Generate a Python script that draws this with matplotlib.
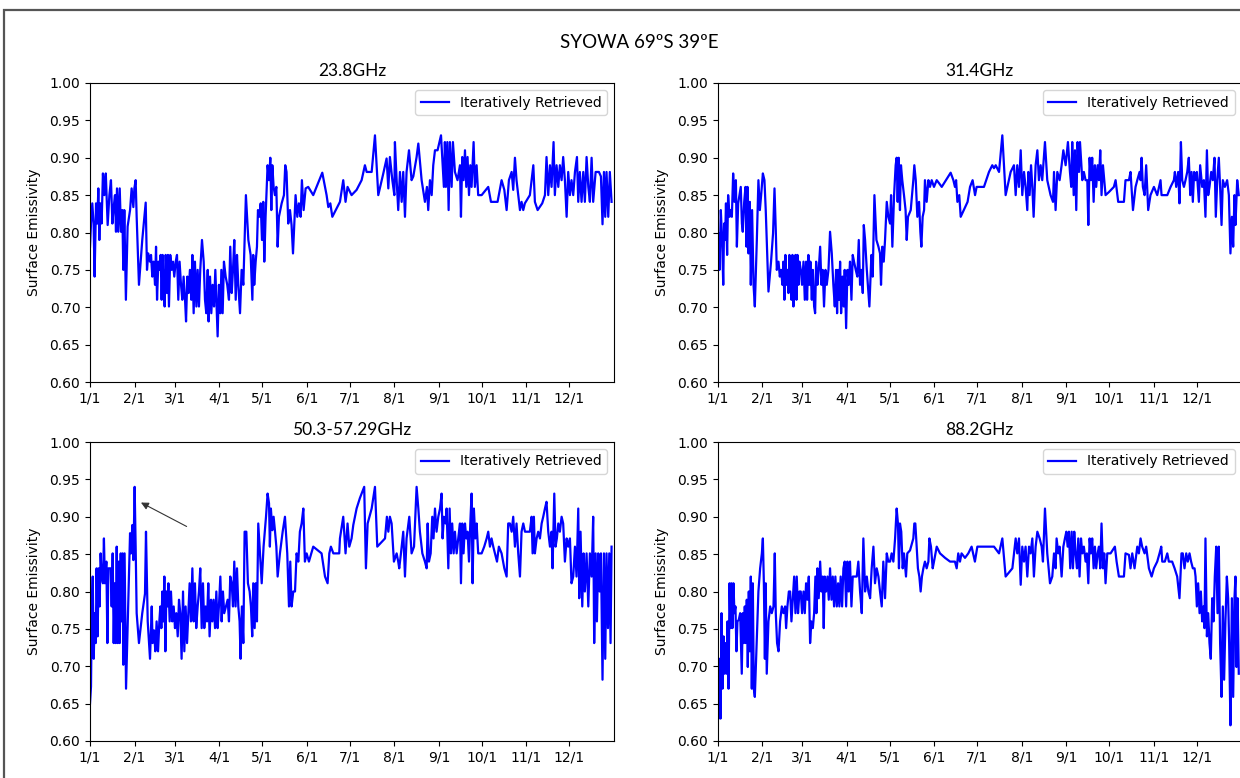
import matplotlib
matplotlib.use("Agg")
import matplotlib.pyplot as plt
from matplotlib.patches import Rectangle

# ---------------- data (day of year, surface emissivity) ----------------
month_ticks = [1, 32, 60, 91, 121, 152, 182, 213, 244, 274, 305, 335]
month_labels = ["1/1", "2/1", "3/1", "4/1", "5/1", "6/1", "7/1", "8/1",
                "9/1", "10/1", "11/1", "12/1"]
y_ticks = [0.60, 0.65, 0.70, 0.75, 0.80, 0.85, 0.90, 0.95, 1.00]

titles = ["23.8GHz", "31.4GHz", "50.3-57.29GHz", "88.2GHz"]
suptitle = "SYOWA 69ºS 39ºE"
legend_label = "Iteratively Retrieved"

e238 = [(1,0.781),(1.7,0.812),(2.6,0.839),(3.5,0.812),(4.2,0.741),(5.2,0.839),(6.1,0.812),(6.8,0.859),(7.5,0.790),(8.2,0.839),
(9.1,0.812),(10,0.879),(11,0.850),(12,0.879),(13.3,0.810),(14.5,0.850),(15.6,0.870),(16.6,0.812),(17.5,0.834),(18.4,0.850),
(19.1,0.801),(19.8,0.859),(20.7,0.801),(21.7,0.859),(22.6,0.801),(23.5,0.830),(24.2,0.750),(24.9,0.830),(26,0.710),(27.2,0.808),
(28.9,0.830),(30,0.859),(31.2,0.834),(31.9,0.859),(32.8,0.870),(33.5,0.821),(35.1,0.730),(37.4,0.790),(39.8,0.840),(40.7,0.750),
(41.6,0.772),(42.8,0.761),(43.5,0.770),(44.4,0.741),(45.3,0.761),(46.3,0.730),(47,0.781),(47.7,0.710),(48.6,0.761),(49.5,0.750),
(50.2,0.770),(50.9,0.710),(51.6,0.770),(52.3,0.730),(53,0.701),(53.7,0.770),(54.6,0.719),(55.3,0.770),(56,0.701),(56.9,0.770),
(57.9,0.750),(58.8,0.761),(59.7,0.741),(60.7,0.761),(61.6,0.770),(62.5,0.710),(63.4,0.761),(64.4,0.730),(65.3,0.710),(66.2,0.741),
(67.2,0.710),(67.9,0.681),(68.8,0.741),(69.7,0.719),(70.6,0.750),(71.6,0.710),(72.3,0.770),(73.2,0.692),(74.1,0.761),(75.1,0.701),
(76,0.750),(76.9,0.701),(77.8,0.750),(79,0.790),(80.2,0.761),(81.1,0.710),(82,0.692),(83,0.750),(83.6,0.681),(84.6,0.741),
(85.5,0.692),(86.4,0.730),(87.4,0.701),(88.3,0.750),(89.2,0.701),(89.9,0.661),(90.8,0.730),(91.8,0.692),(92.5,0.750),(93.4,0.692),
(94.3,0.761),(95.5,0.741),(96.6,0.730),(97.8,0.710),(98.7,0.781),(99.7,0.719),(100.6,0.750),(101.5,0.790),(102.5,0.710),(103.4,0.770),
(104.3,0.730),(105.5,0.692),(106.6,0.750),(107.8,0.730),(108.7,0.790),(109.6,0.850),(111.3,0.790),(112.9,0.770),(114.1,0.710),(114.7,0.770),
(115.4,0.730),(116.4,0.761),(117.3,0.781),(118,0.830),(118.9,0.821),(119.9,0.839),(120.8,0.790),(121.7,0.841),(122.4,0.761),(123.3,0.821),
(124.7,0.890),(125.7,0.870),(126.6,0.900),(127.3,0.830),(128,0.890),(128.9,0.861),(129.8,0.850),(130.8,0.861),(131.7,0.781),(132.6,0.821),
(134.5,0.839),(136.1,0.850),(137,0.890),(137.9,0.881),(139.1,0.812),(140.3,0.830),(141.4,0.810),(142.4,0.772),(143.3,0.812),(144.2,0.850),
(145.4,0.821),(146.5,0.839),(147.7,0.821),(148.6,0.870),(149.8,0.830),(151.2,0.859),(153,0.861),(156.5,0.850),(162.8,0.880),(165.8,0.850),
(167,0.834),(168.4,0.839),(169.8,0.821),(175.1,0.841),(177.4,0.870),(179,0.841),(180.4,0.861),
(183.2,0.850),(186.7,0.857),(190.2,0.870),(192.5,0.890),(193.7,0.881),(197.2,0.881),(199.5,0.930),(201.8,0.850),(205.3,0.879),(207.6,0.899),
(208.8,0.859),(209.9,0.901),(211.6,0.870),(213,0.850),(213.4,0.921),(214.6,0.870),(215.7,0.830),(216.9,0.881),(218.1,0.841),(219.2,0.881),
(220.4,0.821),(221.5,0.881),(223.2,0.910),(225,0.870),(226.2,0.875),(228.5,0.901),(229.7,0.919),(232,0.870),(234.3,0.841),(235.7,0.861),
(236.6,0.830),(237.8,0.870),(239,0.850),(240.1,0.890),(241.3,0.910),(243.1,0.910),(245.5,0.930),(246.4,0.899),(247.5,0.861),(248.2,0.921),
(248.9,0.861),(249.9,0.921),(250.8,0.830),(251.7,0.921),(252.9,0.861),(253.8,0.921),(255.2,0.881),(257,0.870),(258.7,0.890),(259.4,0.821),
(260.3,0.901),(261.2,0.870),(262.2,0.910),(263.1,0.861),(264,0.901),(265,0.850),(265.9,0.890),(266.8,0.861),(268.2,0.921),(269.1,0.861),
(270.3,0.890),(271.4,0.850),(273.8,0.850),(278.4,0.861),(280.3,0.841),(284.9,0.841),(287.7,0.870),(289.6,0.857),(291.2,0.830),(292.8,0.870),
(294.7,0.881),(295.8,0.857),(297,0.900),(298.1,0.870),(299.3,0.850),(300.5,0.830),(301.6,0.841),(302.8,0.830),(303.9,0.839),(307.4,0.850),
(308.6,0.870),(309.8,0.890),(310.9,0.841),(312.8,0.830),(316,0.839),(317.9,0.850),(319,0.901),(320.2,0.850),(321.4,0.890),(322.5,0.861),
(323.9,0.921),(324.8,0.850),(326,0.890),(327.2,0.861),(328.3,0.890),(329.5,0.870),(330.6,0.901),(331.8,0.870),(333,0.821),(334.1,0.881),
(335.3,0.850),(336.4,0.870),(337.6,0.850),(338.8,0.881),(340.2,0.901),(341.1,0.841),(342.2,0.881),(343.4,0.841),(344.6,0.881),(345.7,0.841),
(346.9,0.901),(348.1,0.861),(349.2,0.841),(350.4,0.900),(351.5,0.841),(353.2,0.881),(355.5,0.881),(356.9,0.875),(358,0.811),(359,0.881),
(359.9,0.821),(360.8,0.881),(362,0.821),(363.1,0.881),(364.3,0.841)]

e314 = [(1,0.781),(1.7,0.799),(2.4,0.750),(3.3,0.830),(4.2,0.790),(5,0.730),(5.6,0.812),(6.3,0.790),(6.9,0.839),(7.7,0.770),
(8.4,0.850),(9.4,0.821),(10.3,0.830),(11,0.821),(11.9,0.879),(12.8,0.841),(13.8,0.870),(14.5,0.781),(15.4,0.839),(16.3,0.850),
(17.2,0.861),(18,0.812),(18.6,0.801),(19.6,0.841),(20.5,0.861),(21.2,0.781),(21.9,0.861),(22.6,0.772),(23.5,0.841),(24.2,0.730),
(25.1,0.830),(26.1,0.730),(27,0.701),(28.4,0.790),(29.5,0.870),(30.5,0.830),(31.4,0.850),(32.6,0.879),(33.7,0.870),(34.6,0.830),
(35.3,0.790),(36.5,0.721),(38.3,0.761),(39.7,0.799),(40.7,0.859),(41.6,0.803),(42.3,0.750),(43.5,0.761),(44.4,0.741),(45.3,0.750),
(46.2,0.730),(46.9,0.761),(47.6,0.710),(48.3,0.770),(49,0.730),(49.7,0.750),(50.4,0.719),(51.1,0.770),(51.8,0.730),(52.5,0.710),
(53.2,0.770),(53.9,0.701),(54.6,0.761),(55.3,0.770),(56,0.710),(56.7,0.770),(57.4,0.730),(58.1,0.761),(59,0.750),(59.9,0.730),
(60.9,0.761),(61.8,0.710),(62.7,0.761),(63.4,0.710),(64.3,0.770),(65,0.730),(65.7,0.761),(66.7,0.710),(67.4,0.750),(68.3,0.701),
(69,0.692),(69.7,0.761),(70.6,0.730),(71.5,0.750),(72.5,0.781),(73.4,0.730),(74.3,0.750),(75.2,0.701),(76.2,0.750),(77.1,0.730),
(78.3,0.750),(79.4,0.801),(80.6,0.772),(81.7,0.730),(82.7,0.701),(83.6,0.750),(84.3,0.692),(85,0.750),(85.7,0.710),(86.4,0.761),
(87.1,0.692),(88,0.741),(89,0.701),(89.6,0.750),(90.6,0.672),(91.5,0.750),(92.4,0.730),(93.3,0.761),(94.3,0.710),(95.2,0.770),
(96.1,0.761),(97.3,0.750),(98.4,0.741),(99.4,0.790),(100.3,0.730),(101.2,0.750),(102.2,0.719),(102.9,0.810),(103.8,0.790),(105,0.750),
(106.8,0.701),(108.2,0.770),(109.1,0.741),(110.3,0.850),(111.7,0.790),(113.1,0.781),(114.2,0.772),(114.9,0.730),(115.8,0.781),(116.8,0.761),
(117.7,0.790),(118.9,0.841),(120,0.821),(121.2,0.812),(121.9,0.850),(122.8,0.781),(124,0.850),(125.1,0.890),(125.8,0.900),(126.5,0.841),
(127.2,0.900),(128.1,0.830),(128.8,0.890),(129.7,0.870),(130.9,0.850),(132,0.830),(132.8,0.790),(133.7,0.821),(135.6,0.830),(137.4,0.870),
(138.1,0.890),(139.1,0.870),(140.2,0.821),(141.4,0.841),(142.3,0.801),(143,0.781),(143.9,0.821),(144.9,0.830),(145.5,0.870),(146.7,0.841),
(147.9,0.870),(149,0.861),(150.2,0.870),(151.8,0.861),(153.7,0.870),(155.3,0.866),(157.2,0.861),(163.4,0.880),(165.3,0.870),(166.4,0.861),
(167.2,0.870),(168.1,0.841),(169.4,0.850),(170.4,0.821),(175.2,0.841),(176.9,0.861),(178.7,0.870),(180.4,0.850),(181.5,0.861),
(186.6,0.861),(190.1,0.881),(192.4,0.890),(193.6,0.886),(194.8,0.890),(197.1,0.881),(199.4,0.930),(201.7,0.850),(205.2,0.881),(207.5,0.890),
(208.7,0.850),(209.8,0.890),(211,0.861),(212.2,0.910),(213.3,0.850),(214.5,0.881),(215.6,0.861),(216.8,0.830),(217.5,0.881),(218.4,0.850),
(219.4,0.890),(220.3,0.861),(221.2,0.821),(222.6,0.890),(223.8,0.910),(224.9,0.870),(226.1,0.890),(227.2,0.870),(229.1,0.921),(230.7,0.870),
(233,0.850),(234.7,0.841),(235.4,0.881),(236.5,0.830),(237.7,0.881),(239.3,0.870),(240.7,0.890),(241.9,0.910),(243.5,0.890),(245.1,0.921),
(246.5,0.881),(247.4,0.861),(248.1,0.921),(249.1,0.850),(250,0.910),(250.9,0.830),(251.8,0.921),(252.8,0.881),(253.5,0.921),(255.1,0.870),
(256.2,0.881),(257.4,0.870),(258.6,0.870),(259.3,0.810),(260.2,0.900),(261.1,0.870),(262,0.900),(263,0.841),(263.9,0.890),(264.8,0.861),
(265.8,0.890),(266.7,0.870),(267.6,0.910),(268.5,0.850),(269.5,0.890),(270.4,0.870),(271.3,0.850),(273.6,0.854),(277.1,0.861),(278.3,0.870),
(280.1,0.841),(284.1,0.841),(285.2,0.870),(287.6,0.870),(288.7,0.881),(290.4,0.830),(292.2,0.861),(293.4,0.870),(295,0.881),(295.7,0.870),
(296.4,0.900),(297.3,0.861),(298.5,0.850),(299.6,0.890),(301,0.830),(302.6,0.850),(305,0.861),(307.3,0.850),(309.6,0.870),(310.3,0.850),
(314.3,0.850),(316.6,0.861),(318.9,0.870),(319.6,0.881),(320.5,0.861),(321.9,0.881),(322.8,0.839),(323.8,0.921),(324.7,0.870),(325.9,0.861),
(327,0.870),(328.2,0.881),(329.3,0.900),(330.3,0.850),(331.2,0.881),(332.1,0.841),(333,0.881),(334,0.870),(334.9,0.881),(336.3,0.841),
(337.2,0.890),(338.6,0.861),(339.8,0.870),(340.9,0.821),(341.9,0.910),(342.8,0.850),(343.7,0.861),(344.9,0.881),(346,0.870),(347.2,0.900),
(348.1,0.821),(349.1,0.870),(350.2,0.900),(351.1,0.861),(352.1,0.810),(353,0.870),(354.4,0.861),(356,0.870),(357.2,0.850),(358.3,0.772),
(359.3,0.821),(360.2,0.781),(361.1,0.850),(361.8,0.810),(363,0.870),(364.1,0.850)]

e503 = [(1,0.650),(1.7,0.673),(2.2,0.771),(2.9,0.820),(3.6,0.710),(4.3,0.771),(5,0.731),(5.6,0.831),(6.3,0.740),(7,0.831),
(7.7,0.780),(8.4,0.851),(9.1,0.820),(10,0.811),(10.7,0.871),(11.4,0.811),(12.4,0.840),(13.1,0.731),(13.8,0.831),(14.7,0.831),
(15.4,0.831),(16.1,0.780),(16.8,0.851),(17.5,0.731),(18.2,0.811),(18.9,0.731),(19.6,0.860),(20.3,0.731),(21,0.840),(21.7,0.731),
(22.4,0.851),(23.1,0.760),(23.7,0.851),(24.2,0.702),(25.1,0.851),(26.1,0.670),(27.7,0.789),(28.9,0.878),(29.6,0.851),(30.5,0.889),
(31.2,0.842),(32.1,0.940),(32.8,0.860),(33.5,0.771),(35.1,0.731),(37.4,0.771),(39.3,0.797),(40,0.880),(41.2,0.760),(42.8,0.710),
(44,0.780),(44.6,0.731),(45.6,0.748),(46.5,0.720),(47.4,0.760),(48.4,0.720),(49.3,0.760),(50,0.780),(50.7,0.751),(51.4,0.800),
(52.1,0.760),(52.8,0.820),(53.5,0.720),(54.2,0.800),(54.9,0.780),(55.6,0.811),(56.5,0.760),(57.4,0.800),(58.3,0.760),(59.3,0.780),
(60.2,0.751),(61.1,0.771),(62.1,0.740),(63,0.789),(63.9,0.771),(64.8,0.710),(65.8,0.800),(66.7,0.720),(67.6,0.780),(68.6,0.731),
(69.5,0.771),(70.4,0.811),(71.3,0.760),(72.3,0.831),(73.2,0.760),(74.1,0.811),(75,0.751),(76,0.780),(76.9,0.800),(77.8,0.831),
(78.8,0.751),(79.7,0.811),(80.6,0.751),(81.5,0.780),(82.5,0.760),(83.4,0.811),(84.3,0.740),(85.3,0.789),(86.2,0.760),(87.1,0.789),
(88.1,0.751),(89,0.800),(89.9,0.751),(90.8,0.780),(91.8,0.820),(92.7,0.760),(93.6,0.800),(94.5,0.771),(95.7,0.780),(96.9,0.789),
(97.8,0.760),(98.7,0.820),(99.7,0.811),(100.6,0.780),(101.5,0.840),(102.4,0.780),(103.4,0.831),(104.3,0.780),(105.2,0.760),(105.9,0.710),
(106.8,0.780),(107.8,0.731),(108.7,0.880),(109.9,0.880),(111,0.811),(112.2,0.800),(113.1,0.780),(114,0.740),(114.7,0.811),(115.7,0.751),
(116.4,0.811),(117.3,0.760),(118.2,0.891),(119.4,0.851),(120.6,0.811),(121.9,0.860),(123.6,0.900),(124.7,0.931),(125.7,0.918),(126.3,0.860),
(127,0.911),(128,0.882),(128.9,0.900),(129.8,0.882),(130.8,0.860),(131.7,0.820),(133.3,0.851),(135.2,0.880),(136.8,0.900),(138.4,0.851),
(139.6,0.780),(140.5,0.840),(141.4,0.780),(142.6,0.800),(143.8,0.800),(144.9,0.851),(146.1,0.840),(147.2,0.880),(148.4,0.891),(149.6,0.911),
(150.7,0.840),(151.9,0.851),(153.5,0.840),(156.5,0.860),(162.3,0.851),(164.7,0.820),(166.5,0.811),(167.7,0.851),(168.8,0.860),(170.5,0.851),
(174.6,0.851),(175.1,0.871),(177.4,0.900),(179,0.851),(180.4,0.891),(181.6,0.860),
(183.2,0.871),(184.4,0.889),(186.7,0.911),(189,0.925),(192,0.940),(193.2,0.831),(194.4,0.891),(197.2,0.911),(199.5,0.940),(201.1,0.860),
(206.5,0.871),(207.8,0.900),(208.8,0.880),(209.9,0.900),(211.1,0.891),(212.7,0.840),(214.6,0.851),(215.7,0.840),(216.4,0.831),(217.6,0.851),
(219.2,0.880),(220.4,0.820),(221.5,0.871),(223.4,0.900),(225,0.851),(226.7,0.860),(228.5,0.940),(229.7,0.911),(230.8,0.880),(232.5,0.851),
(234.3,0.840),(235.5,0.831),(236.2,0.891),(237.1,0.840),(238.3,0.851),(239.4,0.900),(240.3,0.871),(241.3,0.911),(242.4,0.880),(243.6,0.900),
(244.8,0.911),(245.9,0.931),(246.6,0.871),(247.5,0.900),(248.7,0.891),(249.4,0.911),(250.6,0.831),(251.5,0.911),(252.4,0.851),(253.3,0.891),
(254.3,0.851),(255.2,0.880),(256.4,0.851),(257.5,0.871),(258.7,0.891),(259.4,0.811),(260.3,0.891),(261.2,0.851),(262.2,0.891),(263.1,0.871),
(264,0.880),(265,0.840),(265.9,0.891),(266.8,0.931),(267.5,0.811),(268.4,0.911),(269.4,0.871),(270.3,0.891),(271.4,0.851),(273.8,0.851),
(275.6,0.860),(277.3,0.871),(278.4,0.880),(279.6,0.860),(280.7,0.871),(281.9,0.860),(283.1,0.851),(284.5,0.840),(285.8,0.860),(287.7,0.851),
(289.6,0.831),(291.2,0.820),(292.3,0.891),(293.5,0.891),(294.7,0.880),(295.8,0.900),(297,0.860),(298.1,0.891),(299.3,0.851),(300.5,0.820),
(301.6,0.880),(302.8,0.891),(304,0.880),(307.4,0.880),(308.6,0.900),(309.3,0.851),(310.2,0.900),(310.9,0.851),(312.1,0.871),(313.2,0.880),
(314.4,0.871),(315.6,0.891),(316.7,0.900),(317.9,0.911),(319,0.920),(320.2,0.880),(321.4,0.860),(322.5,0.880),(323.2,0.831),(324.4,0.931),
(325.3,0.860),(326.2,0.871),(327.2,0.891),(328.3,0.880),(329.5,0.900),(330.6,0.891),(331.8,0.840),(333,0.871),(334.1,0.860),(335.3,0.871),
(336.4,0.811),(337.6,0.820),(338.8,0.860),(339.9,0.820),(341.1,0.911),(341.8,0.791),(342.7,0.880),(343.9,0.780),(344.8,0.851),(345.7,0.800),
(346.9,0.851),(348.1,0.780),(349.2,0.851),(350.4,0.820),(351.5,0.900),(352.2,0.731),(353.2,0.851),(354.1,0.760),(355,0.851),(356,0.800),
(356.9,0.851),(358,0.682),(359,0.851),(359.9,0.710),(360.8,0.851),(361.8,0.751),(362.7,0.851),(363.6,0.731),(364.3,0.860)]

e882 = [(1,0.699),(1.7,0.630),(2.4,0.710),(3.1,0.630),(3.8,0.771),(4.5,0.670),(5.2,0.740),(5.9,0.690),(6.6,0.731),(7.3,0.690),
(8,0.760),(8.7,0.670),(9.4,0.811),(10,0.751),(10.7,0.811),(11.4,0.751),(12.1,0.811),(12.8,0.771),(13.5,0.780),(14.2,0.720),
(14.9,0.760),(15.8,0.762),(16.8,0.771),(17.9,0.690),(18.6,0.771),(19.3,0.731),(20,0.780),(20.7,0.731),(21.4,0.789),(22.1,0.699),
(22.8,0.800),(23.5,0.720),(24.2,0.820),(24.9,0.670),(25.6,0.811),(26.3,0.670),(27,0.659),(29.5,0.800),(30.7,0.831),(31.9,0.851),
(32.6,0.871),(33.3,0.811),(34,0.710),(34.6,0.811),(35.3,0.690),(36.5,0.760),(37.7,0.780),(38.8,0.771),(40,0.780),(40.9,0.851),
(41.6,0.771),(42.5,0.731),(43.5,0.720),(44.6,0.760),(45.8,0.780),(46.9,0.771),(48.1,0.780),(48.8,0.751),(49.7,0.780),(50.7,0.800),
(51.6,0.800),(52.5,0.760),(53.4,0.789),(54.4,0.820),(55.3,0.771),(56.2,0.820),(57.1,0.771),(58.1,0.800),(59,0.800),(59.9,0.771),
(60.9,0.800),(61.8,0.771),(62.7,0.811),(63.6,0.789),(64.6,0.820),(65.5,0.731),(66.4,0.760),(67.4,0.751),(68.3,0.771),(69.2,0.820),
(69.9,0.771),(70.6,0.831),(71.5,0.791),(72.5,0.840),(73.4,0.800),(74.3,0.820),(75,0.751),(75.7,0.820),(76.6,0.800),(77.6,0.820),
(78.5,0.789),(79.4,0.831),(80.4,0.789),(81.3,0.820),(82.2,0.780),(83.1,0.820),(84.1,0.780),(85,0.811),(85.9,0.780),(86.8,0.820),
(87.8,0.780),(88.7,0.831),(89.6,0.840),(90.6,0.780),(91.5,0.840),(92.4,0.800),(93.3,0.840),(94.3,0.780),(95.2,0.820),(96.8,0.820),
(98,0.820),(99.1,0.840),(100.3,0.800),(101.5,0.771),(102.6,0.871),(103.8,0.800),(105,0.820),(106.1,0.800),(107.3,0.791),(108.4,0.831),
(109.6,0.860),(110.7,0.811),(111.9,0.831),(113.1,0.820),(114.2,0.800),(115.4,0.780),(116.5,0.840),(117.7,0.791),(118.9,0.851),(120,0.840),
(121.2,0.840),(122.3,0.851),(123.5,0.840),(124.7,0.871),(125.8,0.911),(126.7,0.891),(127.4,0.831),(128.1,0.891),(129,0.880),(130,0.831),
(130.9,0.851),(132.3,0.820),(133.2,0.851),(135.1,0.855),(137.4,0.871),(138.1,0.891),(138.8,0.891),(139.7,0.860),(140.6,0.831),(141.6,0.820),
(142.5,0.800),(143.4,0.820),(144.4,0.831),(145.5,0.840),(146.7,0.831),(147.9,0.840),(148.6,0.871),(149.7,0.860),(150.9,0.831),(151.8,0.840),
(153.7,0.860),(156,0.851),(159.5,0.845),(163,0.840),(166.4,0.840),(167.6,0.831),(168.7,0.851),(169.9,0.840),(171,0.851),(173.4,0.845),
(175.7,0.851),(178,0.860),(180.3,0.840),(182,0.860),
(184.3,0.860),(193.6,0.860),(197.1,0.851),(199.4,0.871),(201.7,0.820),(206.4,0.831),(208.7,0.871),(209.8,0.851),(211,0.871),(212.2,0.809),
(213.3,0.860),(214.5,0.840),(215.6,0.860),(216.8,0.820),(218,0.860),(219.1,0.851),(220.3,0.871),(221.4,0.820),(222.6,0.860),(223.8,0.880),
(225.4,0.871),(226.8,0.860),(227.7,0.840),(229.1,0.911),(230.7,0.851),(232.6,0.811),(234.2,0.820),(235.4,0.851),(236.5,0.831),(237.2,0.871),
(238.4,0.851),(239.3,0.860),(240.7,0.820),(241.9,0.860),(243,0.871),(244,0.880),(244.9,0.860),(245.8,0.880),(246.7,0.831),(247.7,0.880),
(248.6,0.831),(249.5,0.880),(250.4,0.851),(251.4,0.831),(252.3,0.871),(253.2,0.820),(254.2,0.871),(255.1,0.851),(256.2,0.860),(257.4,0.840),
(258.3,0.851),(259.3,0.811),(260.2,0.871),(261.1,0.851),(262,0.871),(263,0.831),(263.9,0.860),(264.8,0.831),(265.8,0.851),(266.7,0.860),
(267.6,0.831),(268.5,0.891),(269.5,0.831),(270.4,0.851),(271.3,0.811),(272.5,0.851),(274.8,0.851),(277.8,0.860),(279,0.840),(280.6,0.820),
(284.1,0.820),(285.2,0.851),(287.6,0.849),(288.7,0.831),(289.9,0.851),(291.5,0.831),(293.4,0.860),(294.5,0.851),(295.7,0.871),(296.8,0.860),
(298.5,0.851),(299.6,0.860),(301.5,0.831),(303.4,0.820),(305,0.831),(307.3,0.840),(308.9,0.851),(310.1,0.860),(310.8,0.840),(312.6,0.840),
(314.3,0.851),(315.4,0.840),(317.7,0.840),(319.4,0.831),(321.2,0.820),(322.8,0.791),(324.2,0.851),(325.1,0.851),(326.3,0.831),(327.5,0.851),
(328.6,0.840),(329.8,0.851),(330.9,0.840),(332.1,0.831),(333.3,0.831),(334,0.820),(334.9,0.780),(335.8,0.811),(336.8,0.771),(337.7,0.800),
(338.6,0.760),(339.5,0.780),(340.2,0.751),(340.9,0.871),(341.9,0.740),(342.8,0.771),(343.7,0.731),(344.6,0.710),(345.6,0.791),(346.5,0.760),
(347.4,0.820),(348.4,0.860),(349.3,0.771),(350.2,0.860),(351.1,0.731),(352.1,0.659),(353,0.780),(353.9,0.682),(354.8,0.760),(355.8,0.820),
(356.7,0.791),(357.4,0.731),(358.3,0.621),(359.3,0.791),(360.2,0.659),(361.1,0.791),(361.8,0.820),(362.5,0.699),(363.3,0.791),(364.1,0.690)]

series = [e238, e314, e503, e882]

# arrow annotation on the 50.3-57.29GHz panel (day, value)
arrow_tip = (36.5, 0.919)
arrow_tail = (68.3, 0.887)

# ---------------- figure ----------------
W, H = 1240, 778
fig = plt.figure(figsize=(W / 100, H / 100), dpi=100)

def px_axes(left, top, right, bottom):
    return [left / W, 1 - bottom / H, (right - left) / W, (bottom - top) / H]

boxes = [px_axes(90, 83, 614, 382), px_axes(717.5, 83, 1241.5, 382),
         px_axes(90, 442, 614, 741), px_axes(717.5, 442, 1241.5, 741)]

for i, (box, data, title) in enumerate(zip(boxes, series, titles)):
    ax = fig.add_axes(box)
    xs = [p[0] for p in data]
    ys = [p[1] for p in data]
    ax.plot(xs, ys, color="#0000ff", lw=1.6, label=legend_label)
    ax.set_xlim(1, 366)
    ax.set_ylim(0.60, 1.00)
    ax.set_xticks(month_ticks)
    ax.set_xticklabels(month_labels)
    ax.set_yticks(y_ticks)
    ax.set_yticklabels([f"{v:.2f}" for v in y_ticks])
    ax.tick_params(labelsize=10, length=3.5)
    ax.set_ylabel("Surface Emissivity", fontsize=10, labelpad=6)
    ax.set_title(title, fontsize=12.5, family="Lato", pad=5)
    ax.legend(loc="upper right", fontsize=10)
    if i == 2:
        ax.annotate("", xy=arrow_tip, xytext=arrow_tail,
                    arrowprops=dict(arrowstyle="-|>", color="#333333", lw=0.8,
                                    mutation_scale=11, shrinkA=0, shrinkB=0))

fig.text(639 / W, 1 - 42 / H, suptitle, ha="center", va="center",
         fontsize=13.5, family="Lato")

# outer frame (partly cropped, like the reference screenshot)
fig.patches.append(Rectangle((3.5 / W, -0.2), 2.0, (H - 10) / H + 0.2,
                             transform=fig.transFigure, fill=False,
                             edgecolor="#555555", lw=1.6))

fig.savefig("out.png", dpi=100)
